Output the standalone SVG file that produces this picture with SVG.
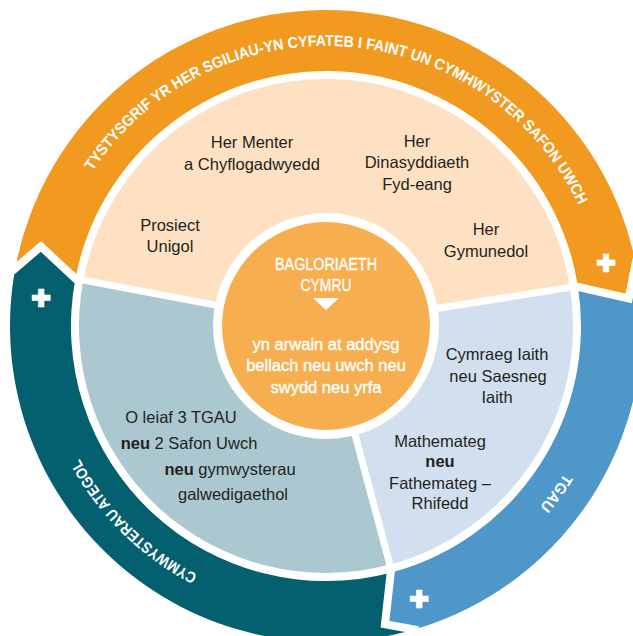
<svg xmlns="http://www.w3.org/2000/svg" width="633" height="636" viewBox="0 0 633 636">
<style>
.t{font-family:'Liberation Sans',Arial,sans-serif;font-size:16.5px;fill:#231f20;text-anchor:middle}
.w{fill:#fff;stroke:#fff;stroke-width:0.35}
.b{font-weight:bold}
.ring{font-family:'Liberation Sans',Arial,sans-serif;font-size:15.5px;font-weight:bold;fill:#fff;text-anchor:middle}
.plus{font-family:'Liberation Sans',Arial,sans-serif;font-size:32px;font-weight:bold;fill:#fff;stroke:#fff;stroke-width:2.5;text-anchor:middle}
.gap{fill:none;stroke:#fff;stroke-width:8;stroke-linecap:square;stroke-linejoin:miter}
.div{stroke:#fff;stroke-width:7;stroke-linecap:round}
</style>
<defs>
<path id="arcTop" d="M70.2,212.1 A280,280 0 0,1 595.2,248.8"/>
<path id="arcTeal" d="M255.9,597.1 A280,280 0 0,1 56.2,400.8"/>
<path id="arcBlue" d="M595.2,403.2 A280,280 0 0,1 482.6,558.1"/>
</defs>
<rect width="633" height="636" fill="#fff"/>

<g id="ring-teal">
<path fill="#04606f" d="M414.2,629.5 A316,316 0 0,1 15.3,268.4 L40.9,246.4 L75.4,278.7 A255,255 0 0,0 390.7,572.7 L385.0,624.2 Z"/>
<text class="ring"><textPath href="#arcTeal" startOffset="50%" textLength="168" lengthAdjust="spacingAndGlyphs">CYMWYSTERAU ATEGOL</textPath></text>
<text class="plus" x="41" y="308">+</text>
</g>
<g id="ring-orange">
<path fill="#f29a1f" d="M15.3,268.4 A316,316 0 0,1 635.7,263.0 L628.7,298.4 L578.0,287.0 A255,255 0 0,0 75.4,278.7 L40.9,246.4 Z"/>
<text class="ring"><textPath href="#arcTop" startOffset="50%" textLength="591" lengthAdjust="spacingAndGlyphs">TYSTYSGRIF YR HER SGILIAU-YN CYFATEB I FAINT UN CYMHWYSTER SAFON UWCH</textPath></text>
<text class="plus" x="606" y="273">+</text>
</g>
<g id="ring-blue">
<path fill="#4f97c9" d="M635.7,263.0 A316,316 0 0,1 414.2,629.5 L385.0,624.2 L390.7,572.7 A255,255 0 0,0 578.0,287.0 L628.7,298.4 Z"/>
<text class="ring"><textPath href="#arcBlue" startOffset="50%" textLength="42" lengthAdjust="spacingAndGlyphs">TGAU</textPath></text>
<text class="plus" x="419" y="609">+</text>
</g>

<g id="connectors">
<path class="gap" d="M75.4,278.7 L40.9,246.4 L15.3,268.4"/>
<path class="gap" d="M578.0,287.0 L628.7,298.4 L635.7,263.0"/>
<path class="gap" d="M390.7,572.7 L385.0,624.2 L414.2,629.5"/>
</g>

<g id="sector-her">
<path fill="#fde1c2" d="M326,326 L83.3,280.1 A247,247 0 0,1 570.0,287.4 Z"/>
<text class="t" x="252" y="148">Her Menter</text>
<text class="t" x="252" y="170">a Chyflogadwyedd</text>
<text class="t" x="417" y="147">Her</text>
<text class="t" x="417" y="168">Dinasyddiaeth</text>
<text class="t" x="417" y="190">Fyd-eang</text>
<text class="t" x="170" y="231">Prosiect</text>
<text class="t" x="170" y="252">Unigol</text>
<text class="t" x="486" y="235">Her</text>
<text class="t" x="486" y="257">Gymunedol</text>
</g>
<g id="sector-tgau">
<path fill="#d2dfef" d="M326,326 L570.0,287.4 A247,247 0 0,1 389.9,564.6 Z"/>
<text class="t" x="497" y="360">Cymraeg Iaith</text>
<text class="t" x="498" y="382">neu Saesneg</text>
<text class="t" x="497" y="403">Iaith</text>
<text class="t" x="440" y="447">Mathemateg</text>
<text class="t b" x="440" y="467">neu</text>
<text class="t" x="440" y="489">Fathemateg –</text>
<text class="t" x="440" y="509">Rhifedd</text>
</g>
<g id="sector-ategol">
<path fill="#abc8d0" d="M326,326 L389.9,564.6 A247,247 0 0,1 83.3,280.1 Z"/>
<text class="t" x="181" y="423">O leiaf 3 TGAU</text>
<text class="t" x="189" y="449"><tspan class="b">neu</tspan> 2 Safon Uwch</text>
<text class="t" x="230" y="475"><tspan class="b">neu</tspan> gymwysterau</text>
<text class="t" x="233" y="500">galwedigaethol</text>
</g>
<g id="dividers">
<line class="div" x1="326" y1="326" x2="79.4" y2="279.4"/>
<line class="div" x1="326" y1="326" x2="574.9" y2="286.6"/>
<line class="div" x1="326" y1="326" x2="390.9" y2="568.5"/>
</g>
<g id="centre">
<circle cx="326" cy="326" r="113" fill="#fff"/>
<circle cx="326" cy="326" r="104" fill="#f7ae4f"/>
<text class="t w" x="326" y="270" textLength="102" lengthAdjust="spacingAndGlyphs">BAGLORIAETH</text>
<text class="t w" x="326" y="291" textLength="51" lengthAdjust="spacingAndGlyphs">CYMRU</text>
<polygon fill="#fff" points="313,298 339,298 326,310"/>
<text class="t w" x="326" y="350">yn arwain at addysg</text>
<text class="t w" x="326" y="371">bellach neu uwch neu</text>
<text class="t w" x="326" y="393">swydd neu yrfa</text>
</g>
</svg>
